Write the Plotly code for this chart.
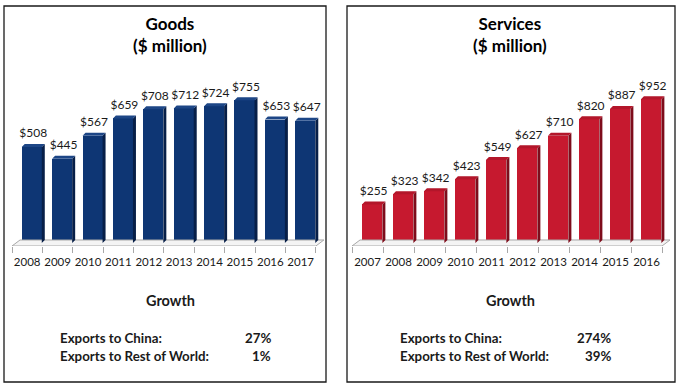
import plotly.graph_objects as go

# ---------------- data ----------------
goods_years = ["2008", "2009", "2010", "2011", "2012", "2013", "2014", "2015", "2016", "2017"]
goods_values = [508, 445, 567, 659, 708, 712, 724, 755, 653, 647]

services_years = ["2007", "2008", "2009", "2010", "2011", "2012", "2013", "2014", "2015", "2016"]
services_values = [255, 323, 342, 423, 549, 627, 710, 820, 887, 952]

goods_title = "Goods<br>($ million)"
services_title = "Services<br>($ million)"
growth_labels = ["Exports to China:", "Exports to Rest of World:"]
goods_growth = ["27%", "1%"]
services_growth = ["274%", "39%"]

# ---------------- layout constants ----------------
W, H = 680, 386
FONT = "Lato"
y_dom = [1 - 246 / H, 1 - 60 / H]

panels = [
    dict(years=goods_years, values=goods_values, title=goods_title, growth=goods_growth,
         xdom=[12 / W, 325 / W], yrange=[-15.9, 968],
         front="#0e3674", side="#071f48", top="#1d4686",
         box=[4, 326], cx=170, lab_x=58, val_x=273),
    dict(years=services_years, values=services_values, title=services_title, growth=services_growth,
         xdom=[352 / W, 671.3 / W], yrange=[-19.9, 1212],
         front="#c6192f", side="#7e0c1b", top="#b3162a",
         box=[347, 675], cx=510, lab_x=398, val_x=613),
]

fig = go.Figure()
xrange_ = [-0.5, 9.8]
bar_w = 0.66
bar_off = 0.15

shapes = []
annotations = []

for k, p in enumerate(panels):
    xa = "x" if k == 0 else "x2"
    ya = "y" if k == 0 else "y2"
    n = len(p["values"])
    idx = list(range(n))
    dom_px_w = (p["xdom"][1] - p["xdom"][0]) * W
    ux = (xrange_[1] - xrange_[0]) / dom_px_w          # x units per pixel
    uy = (p["yrange"][1] - p["yrange"][0]) / ((y_dom[1] - y_dom[0]) * H)  # y units per px

    # floor
    fdx = 8 * ux
    fy0 = p["yrange"][0]
    fy1 = -fy0
    fig.add_trace(go.Scatter(
        x=[-0.5, n - 0.5, n - 0.5 + fdx, -0.5 + fdx, -0.5],
        y=[fy0, fy0, fy1, fy1, fy0],
        mode="lines", fill="toself", fillcolor="#f4f4f4",
        line=dict(color="#a8a8a8", width=1),
        xaxis=xa, yaxis=ya, hoverinfo="skip", showlegend=False, cliponaxis=False))

    # front faces
    fig.add_trace(go.Bar(
        x=idx, y=p["values"], width=bar_w, offset=-bar_w / 2 + bar_off,
        marker=dict(color=p["front"], line=dict(width=0)),
        xaxis=xa, yaxis=ya, hoverinfo="skip", showlegend=False))

    dx = 3 * ux
    dy = 3 * uy
    sx, sy, tx, ty = [], [], [], []
    for i, v in zip(idx, p["values"]):
        l = i + bar_off - bar_w / 2
        r = i + bar_off + bar_w / 2
        sx += [r, r + dx, r + dx, r, r, None]
        sy += [0, dy, v + dy, v, 0, None]
        tx += [l, l + dx, r + dx, r, l, None]
        ty += [v, v + dy, v + dy, v, v, None]
    fig.add_trace(go.Scatter(x=sx, y=sy, mode="lines", fill="toself", fillcolor=p["side"],
                             line=dict(width=0, color=p["side"]), xaxis=xa, yaxis=ya,
                             hoverinfo="skip", showlegend=False, cliponaxis=False))
    fig.add_trace(go.Scatter(x=tx, y=ty, mode="lines", fill="toself", fillcolor=p["top"],
                             line=dict(width=0, color=p["top"]), xaxis=xa, yaxis=ya,
                             hoverinfo="skip", showlegend=False, cliponaxis=False))

    # value labels
    fig.add_trace(go.Scatter(
        x=[i + bar_off + dx / 2 for i in idx], y=[v + 2.2 * dy for v in p["values"]],
        mode="text", text=["$" + str(v) for v in p["values"]], textposition="top center",
        textfont=dict(family=FONT, size=12, color="#1a1a1a"),
        xaxis=xa, yaxis=ya, hoverinfo="skip", showlegend=False, cliponaxis=False))

    # panel border
    shapes.append(dict(type="rect", xref="paper", yref="paper",
                       x0=p["box"][0] / W, x1=p["box"][1] / W, y0=1 - 382 / H, y1=1 - 6 / H,
                       line=dict(color="#1a1a1a", width=1.3), fillcolor="rgba(0,0,0,0)"))

    # title
    annotations.append(dict(text="<b>" + p["title"].replace("<br>", "</b><br><b>") + "</b>",
                            x=p["cx"] / W, y=1 - 35 / H, xref="paper", yref="paper",
                            xanchor="center", yanchor="middle",
                            showarrow=False, align="center",
                            font=dict(family=FONT, size=17, color="#000")))
    annotations.append(dict(text="<b>Growth</b>", x=p["cx"] / W, y=1 - 300 / H,
                            xref="paper", yref="paper", showarrow=False,
                            xanchor="center", yanchor="middle",
                            font=dict(family=FONT, size=14.5, color="#1a1a1a")))
    for j, (lab, val) in enumerate(zip(growth_labels, p["growth"])):
        yy = 1 - (338 + 18 * j) / H
        annotations.append(dict(text="<b>" + lab + "</b>", x=p["lab_x"] / W, y=yy,
                                xref="paper", yref="paper", xanchor="left", yanchor="middle",
                                showarrow=False,
                                font=dict(family=FONT, size=13.3, color="#1a1a1a")))
        annotations.append(dict(text="<b>" + val + "</b>", x=p["val_x"] / W, y=yy,
                                xref="paper", yref="paper", xanchor="right", yanchor="middle",
                                showarrow=False,
                                font=dict(family=FONT, size=13.3, color="#1a1a1a")))

    axis_common = dict(range=xrange_, showgrid=False, zeroline=False, showline=False,
                       tickvals=idx, ticktext=p["years"], ticks="",
                       ticklabelstandoff=7,
                       tickfont=dict(family=FONT, size=11.5, color="#1a1a1a"),
                       minor=dict(tickvals=[i - 0.5 for i in range(n + 1)], ticks="outside",
                                  ticklen=6, tickcolor="#a8a8a8", tickwidth=1),
                       fixedrange=True)
    yaxis_common = dict(range=p["yrange"], visible=False, fixedrange=True)
    if k == 0:
        fig.update_layout(xaxis=dict(domain=p["xdom"], anchor="y", **axis_common),
                          yaxis=dict(domain=y_dom, anchor="x", **yaxis_common))
    else:
        fig.update_layout(xaxis2=dict(domain=p["xdom"], anchor="y2", **axis_common),
                          yaxis2=dict(domain=y_dom, anchor="x2", **yaxis_common))

fig.update_layout(width=W, height=H, margin=dict(l=0, r=0, t=0, b=0),
                  paper_bgcolor="white", plot_bgcolor="white",
                  shapes=shapes, annotations=annotations, bargap=0, showlegend=False)

fig.write_html("out.html", config={"displayModeBar": False},
               post_script="document.body.style.margin='0';")
